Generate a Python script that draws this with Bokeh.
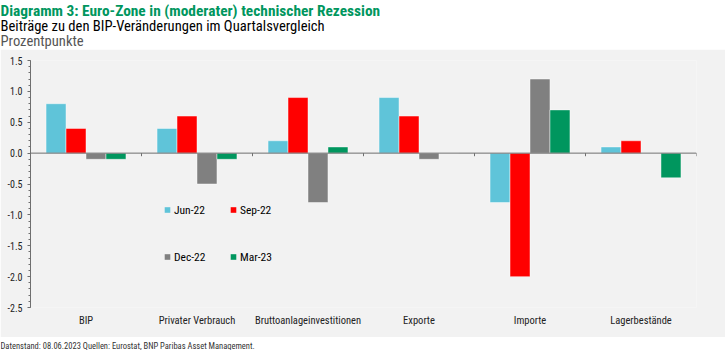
from bokeh.plotting import figure
from bokeh.models import (Range1d, Span, Label, Legend, LegendItem, FixedTicker,
                          SingleIntervalTicker, PrintfTickFormatter)
from bokeh.layouts import column
from bokeh.embed import file_html
from bokeh.resources import INLINE
import numpy as np

# ---------------- data ----------------
categories = ["BIP", "Privater Verbrauch", "Bruttoanlageinvestitionen",
              "Exporte", "Importe", "Lagerbestände"]
series_names = ["Jun-22", "Sep-22", "Dec-22", "Mar-23"]
jun22 = [0.8, 0.4, 0.2, 0.9, -0.8, 0.1]
sep22 = [0.4, 0.6, 0.9, 0.6, -2.0, 0.2]
dec22 = [-0.1, -0.5, -0.8, -0.1, 1.2, 0.0]
mar23 = [-0.1, -0.1, 0.1, 0.0, 0.7, -0.4]
series_colors = ["#5fc4d9", "#ff0000", "#808080", "#00965e"]

title_text = "Diagramm 3: Euro-Zone in (moderater) technischer Rezession"
subtitle_text = "Beiträge zu den BIP-Veränderungen im Quartalsvergleich"
unit_text = "Prozentpunkte"
footer_text = "Datenstand: 08.06.2023 Quellen: Eurostat, BNP Paribas Asset Management."

NARROW = "'Roboto Condensed', 'Liberation Sans Narrow', 'DejaVu Sans Condensed', Roboto"
GRAY = "#f2f2f2"
W = 725


def blank_fig(h):
    f = figure(width=W, height=h, output_backend="svg", toolbar_location=None,
               x_range=Range1d(0, W), y_range=Range1d(0, h),
               x_axis_location=None, y_axis_location=None, frame_align=False,
               min_border=0, min_border_left=0, min_border_right=0,
               min_border_top=0, min_border_bottom=0,
               outline_line_color=None, border_fill_color="white",
               background_fill_color="white")
    f.grid.visible = False
    f.title.visible = False
    return f


# ---------------- header ----------------
hdr = blank_fig(49)
hdr.add_layout(Label(x=0, y=39, x_units="screen", y_units="screen", text=title_text,
                     text_font=NARROW, text_font_size="15.4px", text_font_style="bold",
                     text_color="#00965e", text_baseline="middle"))
hdr.add_layout(Label(x=0, y=24, x_units="screen", y_units="screen", text=subtitle_text,
                     text_font=NARROW, text_font_size="14.6px",
                     text_color="#000000", text_baseline="middle"))
hdr.add_layout(Label(x=0, y=8.5, x_units="screen", y_units="screen", text=unit_text,
                     text_font=NARROW, text_font_size="14.6px",
                     text_color="#555555", text_baseline="middle"))

# ---------------- main chart ----------------
n = len(categories)
p = figure(width=W, height=288, output_backend="svg", toolbar_location=None,
           x_range=Range1d(0, n), y_range=Range1d(-2.5, 1.5), frame_align=False,
           min_border_left=30, min_border_right=29, min_border_top=11, min_border_bottom=30,
           outline_line_color=None, background_fill_color=GRAY, border_fill_color=GRAY)
p.grid.visible = False
p.title.visible = False

bar_w = 0.18
centers = np.arange(n) + 0.5
all_series = [jun22, sep22, dec22, mar23]
for j, (vals, col) in enumerate(zip(all_series, series_colors)):
    p.vbar(x=centers + (j - 1.5) * bar_w, top=vals, bottom=0, width=bar_w,
           fill_color=col, line_color="white", line_alpha=0.45, line_width=1)

p.add_layout(Span(location=0, dimension="width", line_color="#6f6f6f", line_width=1))
bounds = np.arange(1, n + 1)
p.segment(x0=bounds, y0=0, x1=bounds, y1=-0.05, line_color="#6f6f6f", line_width=1)

# y axis
ya = p.yaxis[0]
ya.ticker = SingleIntervalTicker(interval=0.5, num_minor_ticks=5)
ya.formatter = PrintfTickFormatter(format="%.1f")
ya.axis_line_color = "#6f6f6f"
ya.major_tick_line_color = "#6f6f6f"
ya.minor_tick_line_color = "#6f6f6f"
ya.major_tick_in = 0
ya.major_tick_out = 3
ya.minor_tick_in = 0
ya.minor_tick_out = 2
ya.major_label_standoff = 5
ya.major_label_text_font = NARROW
ya.major_label_text_font_size = "10px"
ya.major_label_text_color = "#222222"

# x axis (labels only)
xa = p.xaxis[0]
xa.ticker = FixedTicker(ticks=list(centers))
xa.major_label_overrides = {float(c): lab for c, lab in zip(centers, categories)}
xa.axis_line_color = None
xa.major_tick_line_color = None
xa.minor_tick_line_color = None
xa.major_tick_in = 0
xa.major_tick_out = 0
xa.minor_tick_in = 0
xa.minor_tick_out = 0
xa.major_label_standoff = 6
xa.major_label_text_font = NARROW
xa.major_label_text_font_size = "10.5px"
xa.major_label_text_color = "#222222"

# legend: square markers (not drawn in plot: NaN position), four single-item legends
positions = [(130, 90), (196, 90), (130, 43), (196, 43)]
for name, col, (lx, ly) in zip(series_names, series_colors, positions):
    r = p.scatter(x=[np.nan], y=[np.nan], marker="square", size=7,
                  fill_color=col, line_color=None)
    lg = Legend(items=[LegendItem(label=name, renderers=[r])], location=(lx, ly),
                orientation="horizontal", padding=0, margin=0, spacing=0,
                glyph_width=14, glyph_height=15, label_height=15, label_standoff=0,
                border_line_color=None, background_fill_alpha=0,
                label_text_font=NARROW, label_text_font_size="11.5px",
                label_text_color="#000000")
    p.add_layout(lg)

# ---------------- footer ----------------
ftr = blank_fig(13)
ftr.add_layout(Label(x=0, y=5, x_units="screen", y_units="screen", text=footer_text,
                     text_font=NARROW, text_font_size="8.5px",
                     text_color="#333333", text_baseline="middle"))

layout = column(hdr, p, ftr, spacing=0)
open("out.html", "w").write(file_html(layout, INLINE))
